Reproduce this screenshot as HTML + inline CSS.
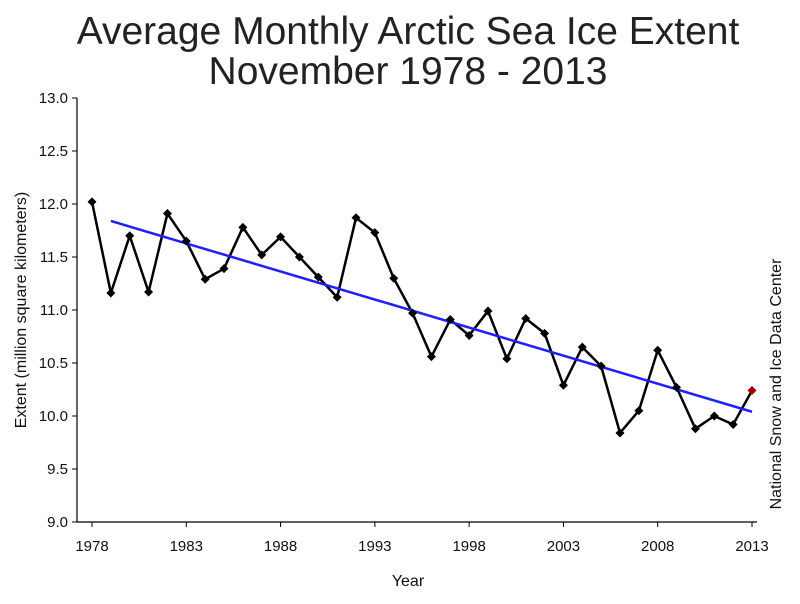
<!DOCTYPE html>
<html><head><meta charset="utf-8"><style>
body{margin:0;background:#fff;width:800px;height:599px;overflow:hidden;font-family:"Liberation Sans",Arial,sans-serif}
</style></head><body>
<svg width="800" height="599" font-family="Liberation Sans, Arial, sans-serif">
<text x="408" y="44" text-anchor="middle" font-size="39" fill="#222">Average Monthly Arctic Sea Ice Extent</text>
<text x="408" y="84" text-anchor="middle" font-size="39" fill="#222">November 1978 - 2013</text>
<g id="axes"></g>
<g id="marks"></g>
<text x="408" y="586" text-anchor="middle" font-size="16" fill="#111">Year</text>
<text transform="translate(26,310) rotate(-90)" text-anchor="middle" font-size="16" fill="#111">Extent (million square kilometers)</text>
<text transform="translate(781,384) rotate(-90)" text-anchor="middle" font-size="16" fill="#111">National Snow and Ice Data Center</text>
</svg>
<script>
const years=[1978,1979,1980,1981,1982,1983,1984,1985,1986,1987,1988,1989,1990,1991,1992,1993,1994,1995,1996,1997,1998,1999,2000,2001,2002,2003,2004,2005,2006,2007,2008,2009,2010,2011,2012,2013];
const extent=[12.02,11.16,11.70,11.17,11.91,11.65,11.29,11.39,11.78,11.52,11.69,11.50,11.31,11.12,11.87,11.73,11.30,10.97,10.56,10.91,10.76,10.99,10.54,10.92,10.78,10.29,10.65,10.47,9.84,10.05,10.62,10.27,9.88,10.00,9.92,10.24];
const trendYears=[1979,2013];
const trendValues=[11.84,10.04];
const yTicks=[9.0,9.5,10.0,10.5,11.0,11.5,12.0,12.5,13.0];
const xTicks=[1978,1983,1988,1993,1998,2003,2008,2013];
const NS="http://www.w3.org/2000/svg";
const x=v=>92+(v-1978)*(660/35);
const y=v=>98+(13-v)*106;
function mk(t,a,p){const e=document.createElementNS(NS,t);for(const k in a)e.setAttribute(k,a[k]);p.appendChild(e);return e;}
const ax=document.getElementById('axes'),mg=document.getElementById('marks');
let e=mk('line',{x1:77,y1:98,x2:77,y2:522,stroke:'#000','stroke-width':1.2},ax);


e=mk('line',{x1:77,y1:522,x2:757,y2:522,stroke:'#000','stroke-width':1.2},ax);


yTicks.forEach(t=>{
 mk('line',{x1:72,x2:77,y1:y(t),y2:y(t),stroke:'#000'},ax);
 const l=mk('text',{x:68,y:y(t)+5,'text-anchor':'end','font-size':15,fill:'#111'},ax);l.textContent=t.toFixed(1);
 
 
});
xTicks.forEach(t=>{
 mk('line',{x1:x(t),x2:x(t),y1:522,y2:527,stroke:'#000'},ax);
 const l=mk('text',{x:x(t),y:551,'text-anchor':'middle','font-size':15,fill:'#111'},ax);l.textContent=t;
 
 
});
e=mk('polyline',{points:years.map((yr,i)=>x(yr)+','+y(extent[i])).join(' '),fill:'none',stroke:'#000','stroke-width':2.5},mg);


e=mk('line',{x1:x(trendYears[0]),y1:y(trendValues[0]),x2:x(trendYears[1]),y2:y(trendValues[1]),stroke:'#1f1fff','stroke-width':2.5},mg);


years.forEach((yr,i)=>{
 const cx=x(yr),cy=y(extent[i]),r=4.5,last=i===years.length-1;
 const p=mk('polygon',{points:`${cx},${cy-r} ${cx+r},${cy} ${cx},${cy+r} ${cx-r},${cy}`,fill:last?'#a00000':'#000'},mg);
 
 
});
</script>
</body></html>
